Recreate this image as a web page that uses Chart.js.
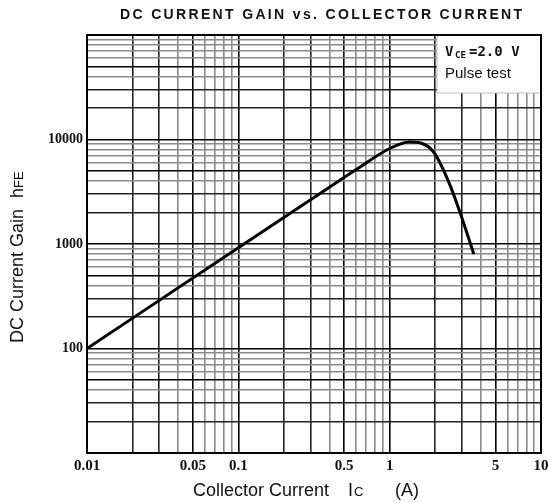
<!DOCTYPE html>
<html>
<head>
<meta charset="utf-8">
<script src="https://cdn.jsdelivr.net/npm/chart.js@4.4.1/dist/chart.umd.min.js"></script>
<style>
  html, body { margin: 0; padding: 0; background: #fff; }
  #wrap { width: 548px; height: 503px; }
</style>
</head>
<body>
<div id="wrap"><canvas id="gainChart" width="548" height="503"></canvas></div>
<script>
// hFE vs Ic (VCE = 2.0 V)
const currentA = [0.01, 0.1, 0.3, 0.63, 1.0, 1.35, 1.64, 1.97, 2.47, 2.88, 3.6];
const gainHfe = [100, 920, 2650, 5400, 8200, 9450, 9150, 7430, 3840, 2110, 800];

// axis ranges and labelled ticks
const xDecades = [0.01, 0.1, 1, 10];
const yDecades = [10, 100, 1000, 10000, 100000];
const xTickLabels = ['0.01', '0.05', '0.1', '0.5', '1', '5', '10'];
const yTickLabels = ['100', '1000', '10000'];

const titleText = 'DC CURRENT GAIN vs. COLLECTOR CURRENT';

// 1..9 steps inside each decade -> grid lines
function gridTicks(decades) {
  const out = [];
  for (let d = 0; d < decades.length - 1; d++) {
    for (let m = 1; m <= 9; m++) out.push({ value: +(decades[d] * m).toPrecision(3) });
  }
  out.push({ value: decades[decades.length - 1] });
  return out;
}

function fmt(v) { return String(+v.toPrecision(3)); }

function gridColor(ctx) {
  const v = ctx.tick ? ctx.tick.value : 0;
  const sig = +(v / Math.pow(10, Math.floor(Math.log10(v) + 1e-9))).toFixed(2);
  return (sig === 1 || sig === 5) ? '#000' : (sig === 2 || sig === 3 ? '#222' : '#8a8a8a');
}

const extras = {
  id: 'extras',
  afterDraw(chart) {
    const { ctx, chartArea: a } = chart;
    ctx.save();

    // frame
    ctx.strokeStyle = '#000';
    ctx.lineWidth = 2;
    ctx.strokeRect(a.left, a.top, a.right - a.left, a.bottom - a.top);

    // title with wide spacing
    ctx.fillStyle = '#111';
    ctx.font = 'bold 14px "Liberation Sans"';
    ctx.textBaseline = 'middle';
    ctx.textAlign = 'left';
    const plain = ctx.measureText(titleText).width;
    const sp = (402 - plain) / (titleText.length - 1);
    ctx.letterSpacing = sp.toFixed(2) + 'px';
    ctx.fillText(titleText, 120, 15);
    ctx.letterSpacing = '0px';

    // condition box
    ctx.fillStyle = '#fff';
    ctx.fillRect(437, a.top + 1, a.right - 438, 57);
    ctx.strokeStyle = '#bbb';
    ctx.lineWidth = 1;
    ctx.beginPath();
    ctx.moveTo(437, a.top + 1);
    ctx.lineTo(437, a.top + 58);
    ctx.lineTo(a.right - 1, a.top + 58);
    ctx.stroke();
    ctx.fillStyle = '#111';
    ctx.textBaseline = 'alphabetic';
    ctx.font = 'bold 14px "DejaVu Sans Mono"';
    ctx.fillText('V', 445, 56);
    ctx.font = 'bold 9px "DejaVu Sans Mono"';
    ctx.fillText('CE', 455, 58);
    ctx.font = 'bold 14px "DejaVu Sans Mono"';
    ctx.fillText('=2.0 V', 469, 56);
    ctx.font = '15px "Liberation Sans"';
    ctx.fillText('Pulse test', 445, 78);

    // x axis title
    ctx.font = '18px "Liberation Sans"';
    ctx.fillText('Collector Current', 193, 496);
    ctx.fillText('I', 348, 496);
    const iw = ctx.measureText('I').width;
    ctx.font = '13px "Liberation Sans"';
    ctx.fillText('C', 348 + iw + 1, 496);
    ctx.font = '18px "Liberation Sans"';
    ctx.fillText('(A)', 395, 496);

    // y axis title, rotated
    ctx.translate(23, 343);
    ctx.rotate(-Math.PI / 2);
    ctx.font = '18px "Liberation Sans"';
    ctx.fillText('DC Current Gain', 0, 0);
    ctx.fillText('h', 145, 0);
    const hw = ctx.measureText('h').width;
    ctx.font = '13px "Liberation Sans"';
    ctx.fillText('FE', 145 + hw, 0);

    ctx.restore();
  }
};

new Chart(document.getElementById('gainChart'), {
  type: 'scatter',
  data: {
    datasets: [{
      data: currentA.map((c, i) => ({ x: c, y: gainHfe[i] })),
      showLine: true,
      borderColor: '#000',
      borderWidth: 3,
      pointRadius: 0,
      cubicInterpolationMode: 'monotone'
    }]
  },
  options: {
    responsive: false,
    animation: false,
    layout: { padding: { top: 35, right: 0, left: 0, bottom: 0 } },
    plugins: { legend: { display: false }, tooltip: { enabled: false } },
    scales: {
      x: {
        type: 'logarithmic',
        min: xDecades[0],
        max: xDecades[xDecades.length - 1],
        afterBuildTicks: s => { s.ticks = gridTicks(xDecades); },
        afterFit: s => { s.height = 50; s.paddingRight = 7; },
        border: { display: false },
        grid: { color: gridColor, lineWidth: 1.6, drawTicks: false },
        ticks: {
          autoSkip: false,
          maxRotation: 0,
          padding: 4,
          color: '#111',
          font: { family: '"Liberation Serif"', weight: 'bold', size: 15 },
          callback: v => xTickLabels.includes(fmt(v)) ? fmt(v) : ''
        }
      },
      y: {
        type: 'logarithmic',
        min: yDecades[0],
        max: yDecades[yDecades.length - 1],
        afterBuildTicks: s => { s.ticks = gridTicks(yDecades); },
        afterFit: s => { s.width = 87; },
        border: { display: false },
        grid: { color: gridColor, lineWidth: 1.6, drawTicks: false },
        ticks: {
          autoSkip: false,
          padding: 4,
          color: '#111',
          font: { family: '"Liberation Serif"', weight: 'bold', size: 14 },
          callback: v => yTickLabels.includes(fmt(v)) ? fmt(v) : ''
        }
      }
    }
  },
  plugins: [extras]
});
</script>
</body>
</html>
